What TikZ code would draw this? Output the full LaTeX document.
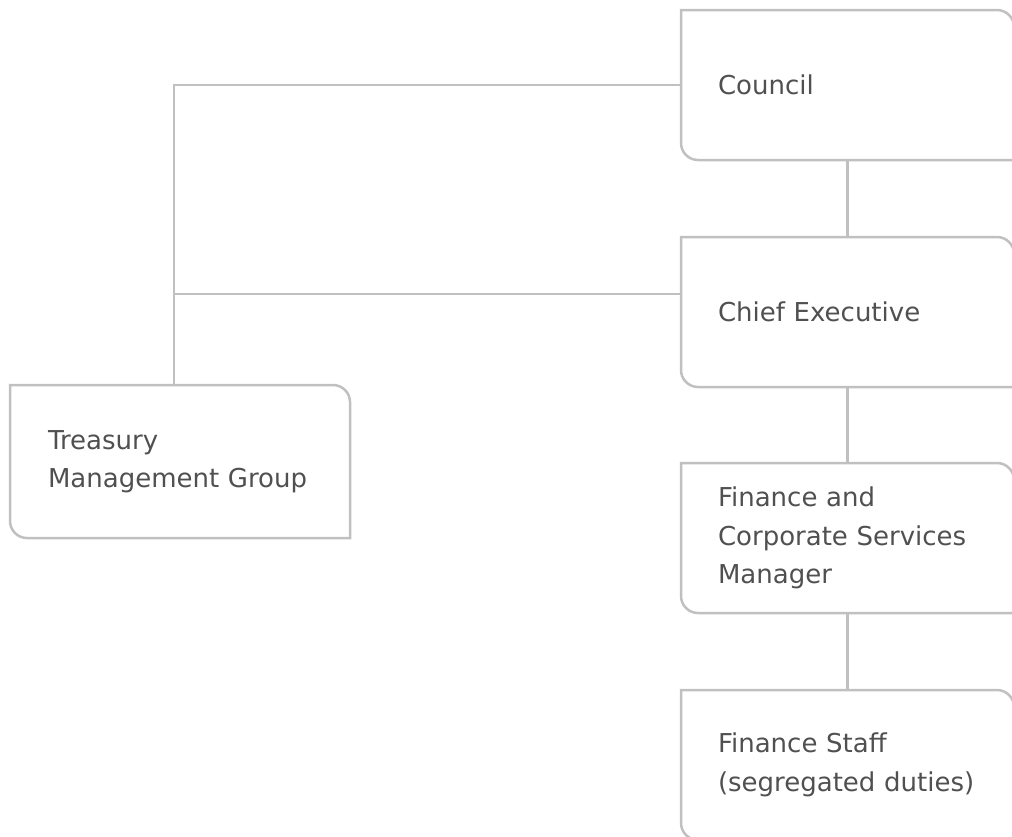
\documentclass[tikz,border=0pt]{standalone}
\usepackage{fontspec}
\setmainfont{DejaVu Sans}
\usepackage{tikz}
\definecolor{boxgray}{HTML}{C0C0C0}
\definecolor{textgray}{HTML}{505050}

\begin{document}
\begin{tikzpicture}[
            x=1pt, y=-1pt,
            org box/.style={rectangle, draw=none, outer sep=0pt,
                minimum width=333pt, minimum height=150pt,
                inner xsep=37pt, text width=259pt, align=left,
                text=textgray, font=\fontsize{26}{38.5}\selectfont},
            link/.style={draw=boxgray, line width=2.5pt},
            ]
            \def\r{17pt}
            \useasboundingbox (0,0) rectangle (1012,836);

            \node[org box] (council) at (847.5,85) {Council};
            \node[org box] (chief) at (847.5,312) {Chief Executive};
            \node[org box] (fcsm) at (847.5,538) {Finance and\\Corporate Services\\Manager};
            \node[org box] (staff) at (847.5,765) {Finance Staff\\(segregated duties)};
            \node[org box, minimum width=340pt, minimum height=153pt,
                inner xsep=38pt, text width=264pt] (tmg) at (180,461.5) {Treasury\\Management Group};

            % box outlines: only top right and bottom left corners rounded
            \foreach \n in {council,chief,fcsm,staff,tmg}
                \draw[link] (\n.north west) -- ([xshift=-\r]\n.north east)
                    arc[start angle=90, end angle=0, radius=\r] -- (\n.south east)
                    -- ([xshift=\r]\n.south west)
                    arc[start angle=270, end angle=180, radius=\r] -- cycle;

            \draw[link] (council.south) -- (chief.north);
            \draw[link] (chief.south) -- (fcsm.north);
            \draw[link] (fcsm.south) -- (staff.north);

            \coordinate (tap) at (174,294);
            \draw[link] (council.west) -| (tmg.north -| tap);
            \draw[link] (tap) -- (tap -| chief.west);
        \end{tikzpicture}
\end{document}
